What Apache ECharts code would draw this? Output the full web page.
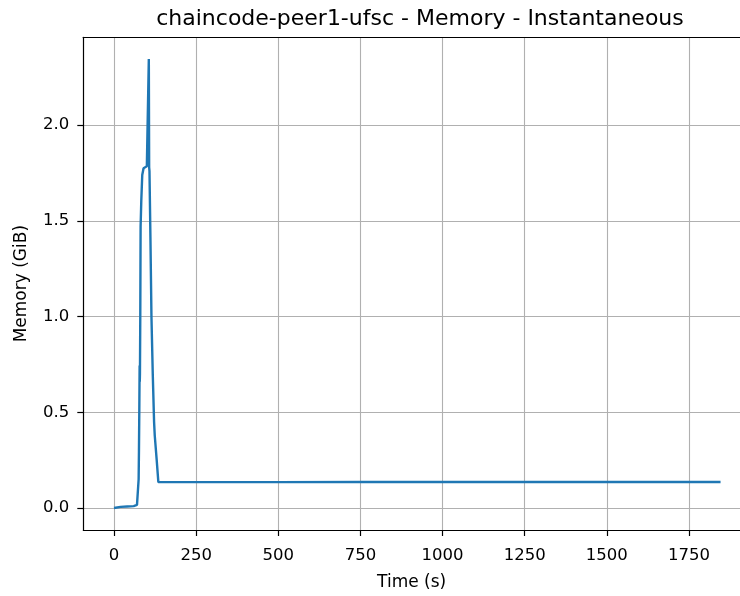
<!DOCTYPE html>
<html><head><meta charset="utf-8">
<script src="https://cdn.jsdelivr.net/npm/echarts@6/dist/echarts.min.js"></script>
<style>html,body{margin:0;padding:0;background:#fff}#c{width:740px;height:596px}</style>
</head><body><div id="c"></div>
<script>
// Time (s)
const times = [0, 5, 20, 40, 60, 70, 74, 75, 76, 77, 78, 78.5, 79, 80, 81, 83, 86, 90, 95, 100, 104, 106, 107, 108, 111, 114, 118, 122, 124, 130, 135, 140, 250, 500, 750, 1000, 1250, 1500, 1750, 1846];
// Memory (GiB)
const memory = [0.000, 0.004, 0.006, 0.008, 0.010, 0.016, 0.025, 0.15, 0.30, 0.50, 0.745, 0.66, 0.70, 1.00, 1.47, 1.60, 1.74, 1.775, 1.785, 1.785, 1.78, 2.345, 1.78, 1.76, 1.40, 1.00, 0.70, 0.45, 0.38, 0.25, 0.135, 0.135, 0.135, 0.135, 0.136, 0.136, 0.136, 0.136, 0.136, 0.136];
const xTicks = [0, 250, 500, 750, 1000, 1250, 1500, 1750];
const yTicks = [0, 0.5, 1.0, 1.5, 2.0];

const font = 'DejaVu Sans';
const chart = echarts.init(document.getElementById('c'), null, {renderer: 'canvas'});
chart.setOption({
  animation: false,
  backgroundColor: '#fff',
  title: {
    text: 'chaincode-peer1-ufsc - Memory - Instantaneous',
    left: 415, top: 3, textAlign: 'center',
    textStyle: {fontFamily: font, fontSize: 22, fontWeight: 'normal', color: '#000'}
  },
  grid: {left: 83.3, top: 37.3, right: 0, bottom: 61.5, show: false},
  xAxis: [{
    type: 'value', min: -93.4, max: 1905.2,
    name: 'Time (s)', nameLocation: 'middle', nameGap: 44,
    nameTextStyle: {fontFamily: font, fontSize: 17, color: '#000'},
    axisLine: {show: true, onZero: false, lineStyle: {color: '#000', width: 1.2}},
    axisTick: {show: true, length: 6, customValues: xTicks, lineStyle: {color: '#000', width: 1.2}},
    axisLabel: {customValues: xTicks, margin: 17, fontFamily: font, fontSize: 16.5, color: '#000', formatter: v => String(v)},
    splitLine: {show: true, lineStyle: {color: '#b0b0b0', width: 1.1}}
  }, {
    type: 'value', min: -93.4, max: 1905.2, position: 'top',
    axisLine: {show: true, onZero: false, lineStyle: {color: '#000', width: 1.2}},
    axisTick: {show: false}, axisLabel: {show: false}, splitLine: {show: false}
  }],
  yAxis: {
    type: 'value', min: -0.115, max: 2.459,
    name: 'Memory (GiB)', nameLocation: 'middle', nameGap: 53, nameRotate: 90,
    nameTextStyle: {fontFamily: font, fontSize: 17, color: '#000'},
    axisLine: {show: true, onZero: false, lineStyle: {color: '#000', width: 1.2}},
    axisTick: {show: true, length: 6, customValues: yTicks, lineStyle: {color: '#000', width: 1.2}},
    axisLabel: {customValues: yTicks, margin: 14, fontFamily: font, fontSize: 16.5, color: '#000', formatter: v => v.toFixed(1)},
    splitLine: {show: true, lineStyle: {color: '#b0b0b0', width: 1.1}}
  },
  series: [{
    type: 'line', showSymbol: false, symbol: 'none', xAxisIndex: 0,
    data: times.map((t, i) => [t, memory[i]]),
    lineStyle: {color: '#1f77b4', width: 2.4},
    itemStyle: {color: '#1f77b4'}
  }]
});
</script></body></html>
